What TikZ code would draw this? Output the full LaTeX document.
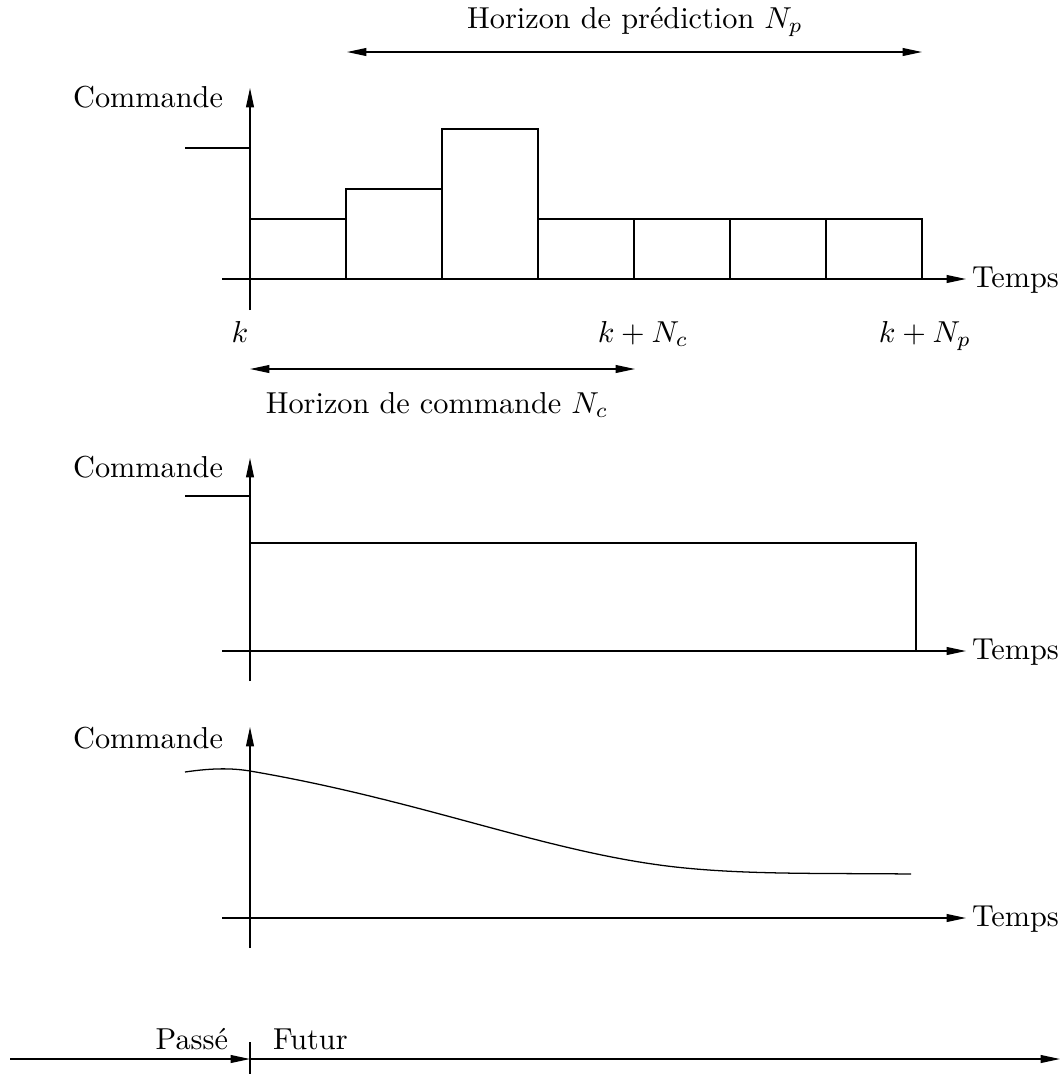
\documentclass[tikz,border=0pt]{standalone}
\usetikzlibrary{arrows.meta}
\begin{document}
\begin{tikzpicture}[x=0.33pt,y=-0.33pt,
  line/.style={line width=0.42pt},
  arr/.style={line width=0.42pt,-{Triangle[length=6.4pt,width=2.6pt]}},
  darr/.style={line width=0.42pt,{Triangle[length=6.4pt,width=2.6pt]}-{Triangle[length=6.4pt,width=2.6pt]}},
  lbl/.style={inner sep=0pt,outer sep=0pt}]
\useasboundingbox (0,0) rectangle (1061,1074);

% ---------- Panel 1 ----------
\coordinate (a1b) at (250,310); \coordinate (a1t) at (250,88);
\coordinate (h1l) at (222,279); \coordinate (h1r) at (966,279);
\draw[arr] (a1b) -- (a1t);
\draw[arr] (h1l) -- (h1r);
\node[lbl,anchor=base east] (c1) at (223,107) {Commande};
\node[lbl,anchor=base west] (t1) at (972,287) {Temps};
\draw[line] (185,148) -- (250,148);
\draw[line] (250,279) -- (250,219) -- (346,219) -- (346,279);
\draw[line] (346,279) -- (346,189) -- (442,189) -- (442,279);
\draw[line] (442,279) -- (442,129) -- (538,129) -- (538,279);
\draw[line] (538,219) -- (922,219) -- (922,279);
\draw[line] (634,219) -- (634,279);
\draw[line] (730,219) -- (730,279);
\draw[line] (826,219) -- (826,279);
\node[lbl,anchor=base] (k) at (240,342) {$k$};
\node[lbl,anchor=base] (kc) at (643,342) {$k+N_c$};
\node[lbl,anchor=base] (kp) at (925,342) {$k+N_p$};
\coordinate (hcl) at (250,369); \coordinate (hcr) at (635,369);
\draw[darr] (hcl) -- (hcr);
\node[lbl,anchor=base] (hc) at (437,413) {Horizon de commande $N_c$};
\coordinate (hpl) at (347,52); \coordinate (hpr) at (922,52);
\draw[darr] (hpl) -- (hpr);
\node[lbl,anchor=base] (hp) at (635,28) {Horizon de prédiction $N_p$};

% ---------- Panel 2 ----------
\coordinate (a2b) at (250,681); \coordinate (a2t) at (250,458);
\coordinate (h2l) at (222,651); \coordinate (h2r) at (966,651);
\draw[arr] (a2b) -- (a2t);
\draw[arr] (h2l) -- (h2r);
\node[lbl,anchor=base east] (c2) at (223,477) {Commande};
\node[lbl,anchor=base west] (t2) at (972,659) {Temps};
\draw[line] (185,496) -- (250,496);
\draw[line] (250,543) -- (916,543) -- (916,651);

% ---------- Panel 3 ----------
\coordinate (a3b) at (250,948); \coordinate (a3t) at (250,727);
\coordinate (h3l) at (222,918); \coordinate (h3r) at (966,918);
\draw[arr] (a3b) -- (a3t);
\draw[arr] (h3l) -- (h3r);
\node[lbl,anchor=base east] (c3) at (223,748) {Commande};
\node[lbl,anchor=base west] (t3) at (972,926) {Temps};
\draw[line] (185,772) .. controls (212,768) and (232,768) .. (250,771)
  .. controls (420,800) and (540,850) .. (667,866)
  .. controls (740,875) and (820,873) .. (911,874);

% ---------- Time line ----------
\coordinate (pl) at (10,1059); \coordinate (pm) at (250,1059); \coordinate (pr) at (1060,1059);
\draw[arr] (pl) -- (pm);
\draw[arr] (pm) -- (pr);
\draw[line] (250,1042) -- (250,1074);
\node[lbl,anchor=base east] (passe) at (228,1049) {Passé};
\node[lbl,anchor=base west] (futur) at (273,1049) {Futur};
\end{tikzpicture}
\end{document}
